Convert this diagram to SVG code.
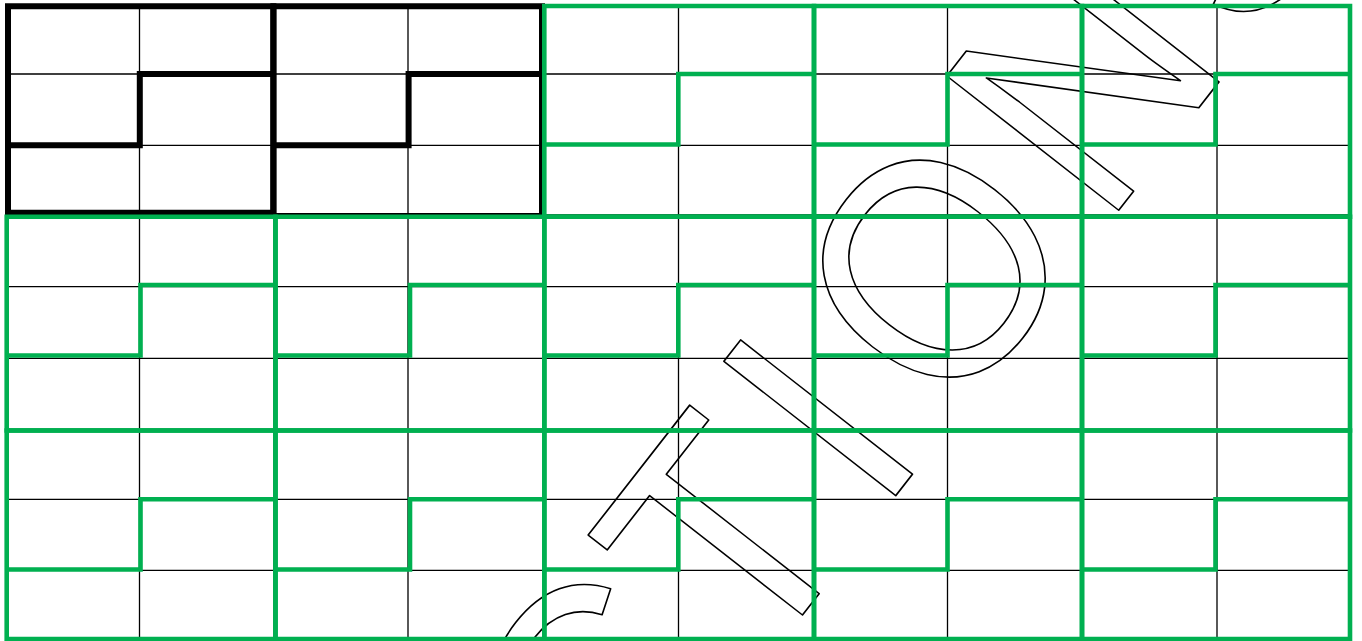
<svg xmlns="http://www.w3.org/2000/svg" width="1362" height="641" viewBox="0 0 1362 641">
  <style>
    .thin { stroke: #000; stroke-width: 1.3; fill: none; }
    .blk { stroke: #000; stroke-width: 6; fill: none; stroke-linejoin: miter; }
    .grn { stroke: #00B050; stroke-width: 4.6; fill: none; stroke-linejoin: miter; }
    .wm { font-family: "Liberation Sans", Arial, sans-serif; font-size: 317px; fill: none; stroke: #000; stroke-width: 1.6; stroke-linejoin: round; }
  </style>
  <rect x="0" y="0" width="1362" height="641" fill="#fff"/>

  <g id="watermark" transform="rotate(-52) scale(0.92 1)">
    <text class="wm" x="-196 25 189.7 395.1 657 900" y="1011" text-anchor="middle" vector-effect="non-scaling-stroke">CTIONS</text>
  </g>

  <g id="grid">
    <path class="thin" d="M7 6.5V638.5 M139.5 6.5V638.5 M274 6.5V638.5 M408 6.5V638.5 M544 6.5V638.5 M678.5 6.5V638.5 M814 6.5V638.5 M947.5 6.5V638.5 M1082 6.5V638.5 M1217 6.5V638.5 M1350 6.5V638.5"/>
    <path class="thin" d="M7 6.5H1350 M7 74H1350 M7 145.3H1350 M7 215H1350 M7 286.7H1350 M7 358.3H1350 M7 429.5H1350 M7 499.3H1350 M7 570.3H1350 M7 638.5H1350"/>
  </g>

  <g id="black-blocks">
    <path id="block-0-0" class="blk" d="M8 6.3H273.4V212.8H8Z M8 145.3H139.8V74H273.4"/>
    <path id="block-0-1" class="blk" d="M273.4 6.3H542V216H273.4Z M273.4 145.3H408.6V74H542"/>
  </g>

  <g id="green-blocks">
    <path id="block-0-2" class="grn" d="M544.3 6H814V216.7H544.3Z M544.3 144.5H678.3V74H814"/>
    <path id="block-0-3" class="grn" d="M814 6H1082V216.7H814Z M814 144.5H947.5V74H1082"/>
    <path id="block-0-4" class="grn" d="M1082 6H1350V216.7H1082Z M1082 144.5H1215.5V74H1350"/>

    <path id="block-1-0" class="grn" d="M6.7 216.7H275.5V430.5H6.7Z M6.7 355.5H140.5V285H275.5"/>
    <path id="block-1-1" class="grn" d="M275.5 216.7H544.3V430.5H275.5Z M275.5 355.5H410V285H544.3"/>
    <path id="block-1-2" class="grn" d="M544.3 216.7H814V430.5H544.3Z M544.3 355.5H678.3V285H814"/>
    <path id="block-1-3" class="grn" d="M814 216.7H1082V430.5H814Z M814 355.5H947.5V285H1082"/>
    <path id="block-1-4" class="grn" d="M1082 216.7H1350V430.5H1082Z M1082 355.5H1215.5V285H1350"/>

    <path id="block-2-0" class="grn" d="M6.7 430.5H275.5V639H6.7Z M6.7 569.5H140.5V499.3H275.5"/>
    <path id="block-2-1" class="grn" d="M275.5 430.5H544.3V639H275.5Z M275.5 569.5H410V499.3H544.3"/>
    <path id="block-2-2" class="grn" d="M544.3 430.5H814V639H544.3Z M544.3 569.5H678.3V499.3H814"/>
    <path id="block-2-3" class="grn" d="M814 430.5H1082V639H814Z M814 569.5H947.5V499.3H1082"/>
    <path id="block-2-4" class="grn" d="M1082 430.5H1350V639H1082Z M1082 569.5H1215.5V499.3H1350"/>
  </g>
</svg>
